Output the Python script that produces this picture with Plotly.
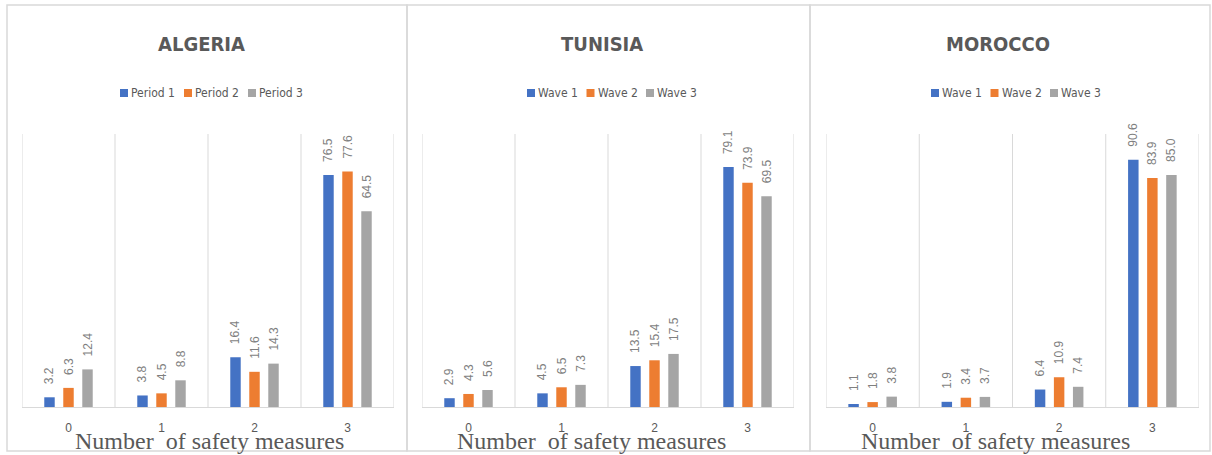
import plotly.graph_objects as go

# ---------------- data ----------------
CATEGORIES = [0, 1, 2, 3]
TICK_LABELS = ["0", "1", "2", "3"]

COUNTRIES = ["ALGERIA", "TUNISIA", "MOROCCO"]

ALGERIA_SERIES = ["Period 1", "Period 2", "Period 3"]
ALGERIA_P1 = [3.2, 3.8, 16.4, 76.5]
ALGERIA_P2 = [6.3, 4.5, 11.6, 77.6]
ALGERIA_P3 = [12.4, 8.8, 14.3, 64.5]

TUNISIA_SERIES = ["Wave 1", "Wave 2", "Wave 3"]
TUNISIA_W1 = [2.9, 4.5, 13.5, 79.1]
TUNISIA_W2 = [4.3, 6.5, 15.4, 73.9]
TUNISIA_W3 = [5.6, 7.3, 17.5, 69.5]

MOROCCO_SERIES = ["Wave 1", "Wave 2", "Wave 3"]
MOROCCO_W1 = [1.1, 1.9, 6.4, 90.6]
MOROCCO_W2 = [1.8, 3.4, 10.9, 83.9]
MOROCCO_W3 = [3.8, 3.7, 7.4, 85.0]

AXIS_TITLE = "Number\u00a0 of safety measures"

# ---------------- styling ----------------
W, H = 1212, 455
COLORS = ["#4472C4", "#ED7D31", "#A5A5A5"]
GRID = "#d9d9d9"
TXT = "#595959"
SANS = "Liberation Sans Narrow, DejaVu Sans Condensed, Liberation Sans, Arial, sans-serif"

panels = [
    dict(name=COUNTRIES[0], series=ALGERIA_SERIES, vals=[ALGERIA_P1, ALGERIA_P2, ALGERIA_P3],
         plot=(22, 394), box=(7, 407), ymax=90, title_x=201,
         legend_start=120, legend_pitch=64, axis_x=210),
    dict(name=COUNTRIES[1], series=TUNISIA_SERIES, vals=[TUNISIA_W1, TUNISIA_W2, TUNISIA_W3],
         plot=(422, 794), box=(407, 810), ymax=90, title_x=602,
         legend_start=527, legend_pitch=59.5, axis_x=591),
    dict(name=COUNTRIES[2], series=MOROCCO_SERIES, vals=[MOROCCO_W1, MOROCCO_W2, MOROCCO_W3],
         plot=(826, 1199), box=(810, 1210), ymax=100, title_x=998,
         legend_start=931, legend_pitch=59.5, axis_x=996),
]

PLOT_TOP, PLOT_BOTTOM = 134, 407
BOX_TOP, BOX_BOTTOM = 5, 451
LEGEND_Y = 93
SWATCH = 8


def px(x):
    return x / W


def py(y):
    return 1 - y / H


fig = go.Figure()
layout = dict(
    width=W, height=H,
    margin=dict(l=0, r=0, t=0, b=0),
    paper_bgcolor="white", plot_bgcolor="white",
    barmode="group", bargap=0.387, bargroupgap=0.45,
    showlegend=False,
)
shapes = []
annotations = []

for i, p in enumerate(panels):
    sfx = "" if i == 0 else str(i + 1)
    xa, ya = "x" + sfx, "y" + sfx
    for j, (sname, vals) in enumerate(zip(p["series"], p["vals"])):
        fig.add_trace(go.Bar(
            x=CATEGORIES, y=vals, name=sname,
            marker=dict(color=COLORS[j], line=dict(width=0)),
            xaxis=xa, yaxis=ya,
            texttemplate="\u00a0\u00a0\u00a0%{y:.1f}",
            textposition="outside", textangle=-90,
            constraintext="none", cliponaxis=False,
            textfont=dict(size=12, color="#7f7f7f", family="Liberation Sans, Arial, sans-serif"),
            hoverinfo="skip",
        ))
        # legend entry (swatch + label)
        sx = p["legend_start"] + j * p["legend_pitch"]
        shapes.append(dict(type="rect", xref="paper", yref="paper",
                           x0=px(sx), x1=px(sx + SWATCH),
                           y0=py(LEGEND_Y + SWATCH / 2), y1=py(LEGEND_Y - SWATCH / 2),
                           fillcolor=COLORS[j], line=dict(width=0)))
        annotations.append(dict(text=sname, xref="paper", yref="paper",
                                x=px(sx + SWATCH + 2), y=py(LEGEND_Y), xanchor="left", yanchor="middle",
                                showarrow=False, borderpad=0,
                                font=dict(size=12, color=TXT, family=SANS)))
    layout["xaxis" + sfx] = dict(
        domain=[px(p["plot"][0]), px(p["plot"][1])], anchor=ya,
        range=[-0.5, 3.5], tickvals=CATEGORIES, ticktext=TICK_LABELS,
        showgrid=False, zeroline=False, showline=True, linecolor=GRID, linewidth=1,
        ticks="", ticklabelstandoff=10,
        tickfont=dict(size=12, color=TXT, family="Liberation Sans, Arial, sans-serif"),
        fixedrange=True,
    )
    layout["yaxis" + sfx] = dict(
        domain=[py(PLOT_BOTTOM), py(PLOT_TOP)], anchor=xa,
        range=[0, p["ymax"]], visible=False, fixedrange=True,
    )
    # category gridlines
    for k in range(len(CATEGORIES) + 1):
        shapes.append(dict(type="line", xref=xa, yref=ya + " domain",
                           x0=k - 0.5, x1=k - 0.5, y0=0, y1=1,
                           line=dict(color=GRID, width=1), layer="below"))
    # panel border
    shapes.append(dict(type="rect", xref="paper", yref="paper",
                       x0=px(p["box"][0]), x1=px(p["box"][1]),
                       y0=py(BOX_BOTTOM), y1=py(BOX_TOP),
                       line=dict(color=GRID, width=1.5), layer="below"))
    annotations.append(dict(text="<b>" + p["name"] + "</b>", xref="paper", yref="paper",
                            x=px(p["title_x"]), y=py(44), xanchor="center", yanchor="middle",
                            showarrow=False,
                            font=dict(size=20, color=TXT, family=SANS)))
    annotations.append(dict(text=AXIS_TITLE, xref="paper", yref="paper",
                            x=px(p["axis_x"]), y=py(441), xanchor="center", yanchor="middle",
                            showarrow=False,
                            font=dict(size=24, color=TXT, family="Liberation Serif, Times New Roman, serif")))

layout["shapes"] = shapes
layout["annotations"] = annotations
fig.update_layout(**layout)

fig.write_html("out.html", config={"displayModeBar": False},
               post_script="document.body.style.margin='0px';document.body.style.overflow='hidden';")
